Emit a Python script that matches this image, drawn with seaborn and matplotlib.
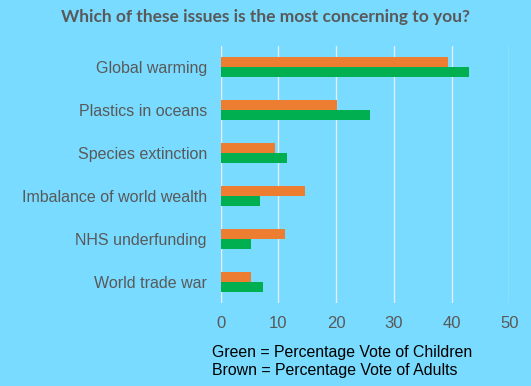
import pandas as pd
import numpy as np
import matplotlib.pyplot as plt
import seaborn as sns

# data
issues = ['Global warming', 'Plastics in oceans', 'Species extinction',
          'Imbalance of world wealth', 'NHS underfunding', 'World trade war']
adults = [39.4, 20.2, 9.4, 14.6, 11.2, 5.3]
children = [43.0, 25.9, 11.5, 6.8, 5.3, 7.3]

df = pd.DataFrame({'issue': issues * 2,
                   'group': ['Adults'] * 6 + ['Children'] * 6,
                   'vote': adults + children})

bg = '#78DBFF'
sns.set_style('white')
plt.rcParams['font.family'] = ['Liberation Sans', 'DejaVu Sans']

fig = plt.figure(figsize=(5.31, 3.86), dpi=100, facecolor=bg)
ax = fig.add_axes([220.7 / 531, 1 - 303 / 386, (509.3 - 220.7) / 531, (303 - 46) / 386])
ax.set_facecolor(bg)

sns.barplot(data=df, y='issue', x='vote', hue='group', orient='h',
            palette={'Adults': '#ED7D31', 'Children': '#00B050'},
            width=0.47, saturation=1, legend=False, linewidth=0, ax=ax)

ax.set_xlim(0, 50)
ax.set_xticks(range(0, 51, 10))
ax.grid(axis='x', color='#E3EEF6', linewidth=1)
ax.set_axisbelow(True)
for s in ax.spines.values():
    s.set_visible(False)
ax.axvline(0, color='#D9D9D9', linewidth=1, zorder=0)
ax.set_xlabel('')
ax.set_ylabel('')
ax.tick_params(axis='x', colors='#595959', labelsize=12, length=0, pad=9)
ax.tick_params(axis='y', colors='#595959', labelsize=11.5, length=0, pad=10)

fig.text(0.5, 1 - 17 / 386, 'Which of these issues is the most concerning to you?',
         ha='center', va='center', fontsize=12.5, fontweight='bold',
         color='#595959', family=['Lato', 'DejaVu Sans'])
fig.text(212 / 531, 1 - 352 / 386, 'Green = Percentage Vote of Children',
         ha='left', va='center', fontsize=11.4, color='black')
fig.text(212 / 531, 1 - 370 / 386, 'Brown = Percentage Vote of Adults',
         ha='left', va='center', fontsize=11.4, color='black')

plt.savefig('out.png', dpi=100, facecolor=bg)
